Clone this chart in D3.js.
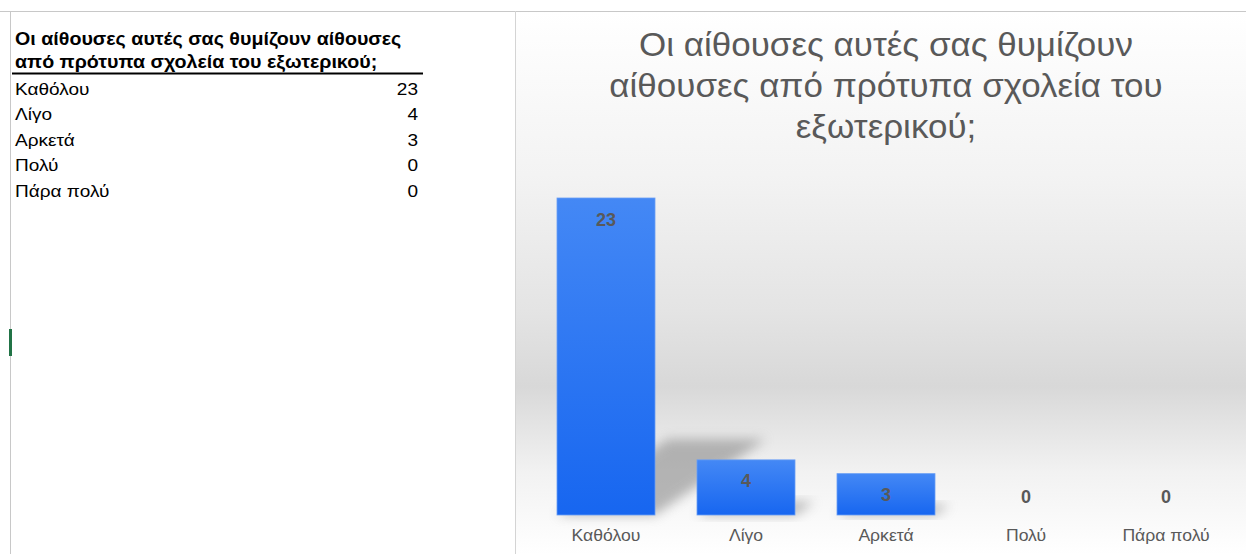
<!DOCTYPE html>
<html>
<head>
<meta charset="utf-8">
<script src="https://cdn.jsdelivr.net/npm/d3@7"></script>
<style>
  html, body { margin: 0; padding: 0; background: #fff; }
  svg { display: block; font-family: "Liberation Sans", Arial, sans-serif; }
</style>
</head>
<body>
<svg id="chart" width="1246" height="554"></svg>
<script>
// ---- Data ----
const categories = ["Καθόλου", "Λίγο", "Αρκετά", "Πολύ", "Πάρα πολύ"];
const counts = [23, 4, 3, 0, 0];
const tableTitle = ["Οι αίθουσες αυτές σας θυμίζουν αίθουσες", "από πρότυπα σχολεία του εξωτερικού;"];
const chartTitle = ["Οι αίθουσες αυτές σας θυμίζουν", "αίθουσες από πρότυπα σχολεία του", "εξωτερικού;"];

const svg = d3.select("#chart");
const defs = svg.append("defs");

// ---- Sheet frame ----
svg.append("line").attr("x1", 0).attr("x2", 1246).attr("y1", 11.5).attr("y2", 11.5)
  .attr("stroke", "#c8c8c8");
svg.append("line").attr("x1", 10.5).attr("x2", 10.5).attr("y1", 11).attr("y2", 554)
  .attr("stroke", "#c8c8c8");
svg.append("rect").attr("x", 9).attr("y", 329).attr("width", 3).attr("height", 27)
  .attr("fill", "#217346");

// ---- Data table ----
const table = svg.append("g");
const cell = (x, y, anchor, bold, t, size, sx) => table.append("text")
  .attr("transform", `translate(${x},${y}) scale(${sx},1)`)
  .attr("text-anchor", anchor)
  .style("font-size", size + "px").style("font-weight", bold ? "bold" : "normal")
  .attr("fill", "#000").text(t);
tableTitle.forEach((t, i) => cell(15, 45 + i * 23, "start", true, t, 19, 1.035));
table.append("line").attr("x1", 12).attr("x2", 423).attr("y1", 73.5).attr("y2", 73.5)
  .attr("stroke", "#000").attr("stroke-width", 2);
categories.forEach((c, i) => {
  const y = 95 + i * 25.4;
  cell(15, y, "start", false, c, 17, 1.12);
  cell(418, y, "end", false, counts[i], 17, 1.12);
});

// ---- Chart area ----
const area = { x: 516, y: 12, w: 730, h: 542 };
const bg = defs.append("linearGradient").attr("id", "bg").attr("x1", 0).attr("x2", 0).attr("y1", 0).attr("y2", 1);
[[0, "#ffffff"], [0.3, "#f3f3f3"], [0.55, "#e4e4e4"], [0.69, "#d8d8d8"], [0.85, "#f2f2f2"], [1, "#ffffff"]]
  .forEach(([o, c]) => bg.append("stop").attr("offset", o).attr("stop-color", c));
svg.append("rect").attr("x", area.x).attr("y", area.y).attr("width", area.w).attr("height", area.h)
  .attr("fill", "url(#bg)");
svg.append("line").attr("x1", 515.5).attr("x2", 515.5).attr("y1", 11).attr("y2", 554)
  .attr("stroke", "#d4d4d4");

// Title
chartTitle.forEach((t, i) => {
  svg.append("text")
    .attr("transform", `translate(886,${56 + i * 41}) scale(1.06,1)`)
    .attr("text-anchor", "middle")
    .style("font-size", "33px").attr("fill", "#595959").text(t);
});

// Scales
const x = d3.scaleBand().domain(categories).range([536, 1236]).paddingInner(0.3).paddingOuter(0.15);
const baseline = 515;
const y = d3.scaleLinear().domain([0, 23]).range([baseline, 198]);

const barGrad = defs.append("linearGradient").attr("id", "bar").attr("x1", 0).attr("x2", 0).attr("y1", 0).attr("y2", 1);
barGrad.append("stop").attr("offset", 0).attr("stop-color", "#4488f5");
barGrad.append("stop").attr("offset", 1).attr("stop-color", "#1766f0");

defs.append("filter").attr("id", "blur").attr("x", "-50%").attr("y", "-50%").attr("width", "200%").attr("height", "200%")
  .append("feGaussianBlur").attr("stdDeviation", 6);

const data = categories.map((c, i) => ({ c, v: counts[i] }));

// Perspective shadows cast up and to the right
svg.append("g").selectAll("path").data(data.filter(d => d.v > 0)).join("path")
  .attr("d", d => {
    const x0 = x(d.c), x1 = x0 + x.bandwidth();
    const h = baseline - y(d.v);
    const dy = h * 0.24, dx = h * 0.35;
    return `M${x0},${baseline} L${x1},${baseline} L${x1 + dx},${baseline - dy} L${x0 + dx},${baseline - dy} Z`;
  })
  .attr("fill", "#8a8a8a").attr("opacity", 0.6).attr("filter", "url(#blur)");

// Bars
svg.append("g").selectAll("rect").data(data).join("rect")
  .attr("x", d => x(d.c))
  .attr("y", d => y(d.v))
  .attr("width", x.bandwidth())
  .attr("height", d => baseline - y(d.v))
  .attr("fill", "url(#bar)")
  .attr("stroke", "#6a9ef5").attr("stroke-width", 0.8);

// Value labels
svg.append("g").selectAll("text").data(data).join("text")
  .attr("x", d => x(d.c) + x.bandwidth() / 2)
  .attr("y", d => d.v > 0 ? y(d.v) + 27.5 : baseline - 12)
  .attr("text-anchor", "middle")
  .style("font-size", "18px").style("font-weight", "bold")
  .attr("fill", "#595959")
  .text(d => d.v);

// Category axis labels
svg.append("g").selectAll("text").data(categories).join("text")
  .attr("transform", d => `translate(${x(d) + x.bandwidth() / 2},541) scale(1.1,1)`)
  .attr("text-anchor", "middle")
  .style("font-size", "16px")
  .attr("fill", "#595959")
  .text(d => d);
</script>
</body>
</html>
